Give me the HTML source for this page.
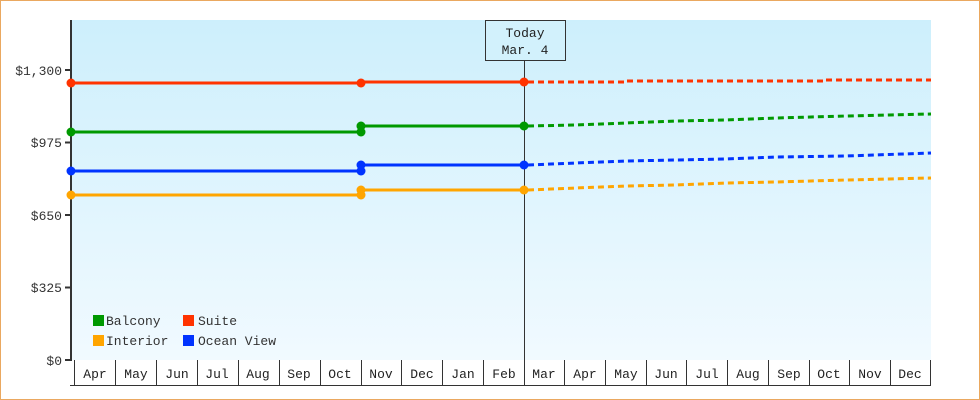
<!DOCTYPE html>
<html><head><style>
body{margin:0;background:#fff}
svg{display:block;font-family:"Liberation Mono","DejaVu Sans Mono",monospace}
</style></head><body>
<svg width="980" height="400" viewBox="0 0 980 400" xmlns="http://www.w3.org/2000/svg">
<defs><linearGradient id="g" x1="0" y1="0" x2="0" y2="1"><stop offset="0" stop-color="#cdeffc"/><stop offset="1" stop-color="#f1faff"/></linearGradient></defs>
<rect x="0.5" y="0.5" width="979" height="399" fill="#fff" stroke="#eaa860"/>
<rect x="71" y="20" width="860" height="340" fill="url(#g)"/>
<g stroke="#333" stroke-width="2">
<line x1="71" y1="20" x2="71" y2="361"/>
<line x1="65" y1="70" x2="71" y2="70"/><line x1="65" y1="142.5" x2="71" y2="142.5"/><line x1="65" y1="215" x2="71" y2="215"/><line x1="65" y1="287.5" x2="71" y2="287.5"/><line x1="65" y1="360" x2="71" y2="360"/>
</g>
<g font-size="13" fill="#333" text-anchor="end">
<text x="62" y="75">$1,300</text><text x="62" y="147">$975</text><text x="62" y="220">$650</text><text x="62" y="292">$325</text><text x="62" y="365">$0</text>
</g>
<g stroke="#333" stroke-width="1" fill="none">
<line x1="70" y1="385.5" x2="931" y2="385.5"/>
<line x1="74.5" y1="360" x2="74.5" y2="385"/>
<line x1="115.5" y1="360" x2="115.5" y2="385"/><line x1="156.5" y1="360" x2="156.5" y2="385"/><line x1="197.5" y1="360" x2="197.5" y2="385"/><line x1="238.5" y1="360" x2="238.5" y2="385"/><line x1="279.5" y1="360" x2="279.5" y2="385"/><line x1="320.5" y1="360" x2="320.5" y2="385"/><line x1="361.5" y1="360" x2="361.5" y2="385"/><line x1="401.5" y1="360" x2="401.5" y2="385"/><line x1="442.5" y1="360" x2="442.5" y2="385"/><line x1="483.5" y1="360" x2="483.5" y2="385"/><line x1="524.5" y1="360" x2="524.5" y2="385"/><line x1="564.5" y1="360" x2="564.5" y2="385"/><line x1="605.5" y1="360" x2="605.5" y2="385"/><line x1="646.5" y1="360" x2="646.5" y2="385"/><line x1="686.5" y1="360" x2="686.5" y2="385"/><line x1="727.5" y1="360" x2="727.5" y2="385"/><line x1="768.5" y1="360" x2="768.5" y2="385"/><line x1="809.5" y1="360" x2="809.5" y2="385"/><line x1="849.5" y1="360" x2="849.5" y2="385"/><line x1="890.5" y1="360" x2="890.5" y2="385"/><line x1="930.5" y1="360" x2="930.5" y2="385"/>
</g>
<g font-size="13" fill="#222" text-anchor="middle">
<text x="95" y="378">Apr</text><text x="136" y="378">May</text><text x="177" y="378">Jun</text><text x="217" y="378">Jul</text><text x="258" y="378">Aug</text><text x="299" y="378">Sep</text><text x="340" y="378">Oct</text><text x="381" y="378">Nov</text><text x="422" y="378">Dec</text><text x="463" y="378">Jan</text><text x="504" y="378">Feb</text><text x="544" y="378">Mar</text><text x="585" y="378">Apr</text><text x="626" y="378">May</text><text x="666" y="378">Jun</text><text x="707" y="378">Jul</text><text x="748" y="378">Aug</text><text x="789" y="378">Sep</text><text x="829" y="378">Oct</text><text x="870" y="378">Nov</text><text x="910" y="378">Dec</text>
</g>
<line x1="524.5" y1="60" x2="524.5" y2="360" stroke="#333" stroke-width="1"/>
<rect x="485.5" y="20.5" width="80" height="40" fill="#d2f1fc" stroke="#333"/>
<text x="525" y="37" font-size="13" fill="#222" text-anchor="middle">Today</text>
<text x="525" y="54" font-size="13" fill="#222" text-anchor="middle">Mar. 4</text>
<g stroke-width="3" fill="none">
<polyline stroke="#ff3300" points="71,83 361,83"/><polyline stroke="#ff3300" points="361,82 524,82"/>
<polyline stroke="#ff3300" stroke-dasharray="6,4" points="528,82 626,82 626,81 826,81 826,80 931,80"/>
<polyline stroke="#009900" points="71,132 361,132"/><polyline stroke="#009900" points="361,126 524,126"/>
<polyline stroke="#009900" stroke-dasharray="6,4" points="528,126 576,125 626,123 676,121 726,120 776,118 846,116 931,114"/>
<polyline stroke="#0033ff" points="71,171 361,171"/><polyline stroke="#0033ff" points="361,165 524,165"/>
<polyline stroke="#0033ff" stroke-dasharray="6,4" points="528,165 576,163 626,161 676,160 726,159 776,157 846,156 931,153"/>
<polyline stroke="#ffa500" points="71,195 361,195"/><polyline stroke="#ffa500" points="361,190 524,190"/>
<polyline stroke="#ffa500" stroke-dasharray="6,4" points="528,190 576,188 626,186 676,185 726,183 776,182 846,180 931,178"/>
</g>
<g>
<circle cx="71" cy="83" r="4.5" fill="#ff3300"/><circle cx="361" cy="83" r="4.5" fill="#ff3300"/><circle cx="524" cy="82" r="4.5" fill="#ff3300"/>
<circle cx="71" cy="132" r="4.5" fill="#009900"/><circle cx="361" cy="132" r="4.5" fill="#009900"/><circle cx="361" cy="126" r="4.5" fill="#009900"/><circle cx="524" cy="126" r="4.5" fill="#009900"/>
<circle cx="71" cy="171" r="4.5" fill="#0033ff"/><circle cx="361" cy="171" r="4.5" fill="#0033ff"/><circle cx="361" cy="165" r="4.5" fill="#0033ff"/><circle cx="524" cy="165" r="4.5" fill="#0033ff"/>
<circle cx="71" cy="195" r="4.5" fill="#ffa500"/><circle cx="361" cy="195" r="4.5" fill="#ffa500"/><circle cx="361" cy="190" r="4.5" fill="#ffa500"/><circle cx="524" cy="190" r="4.5" fill="#ffa500"/>
</g>
<rect x="93" y="315" width="11" height="11" fill="#009900"/><text x="106" y="325" font-size="13" fill="#333">Balcony</text>
<rect x="183" y="315" width="11" height="11" fill="#ff3300"/><text x="198" y="325" font-size="13" fill="#333">Suite</text>
<rect x="93" y="335" width="11" height="11" fill="#ffa500"/><text x="106" y="345" font-size="13" fill="#333">Interior</text>
<rect x="183" y="335" width="11" height="11" fill="#0033ff"/><text x="198" y="345" font-size="13" fill="#333">Ocean View</text>
</svg>
</body></html>
